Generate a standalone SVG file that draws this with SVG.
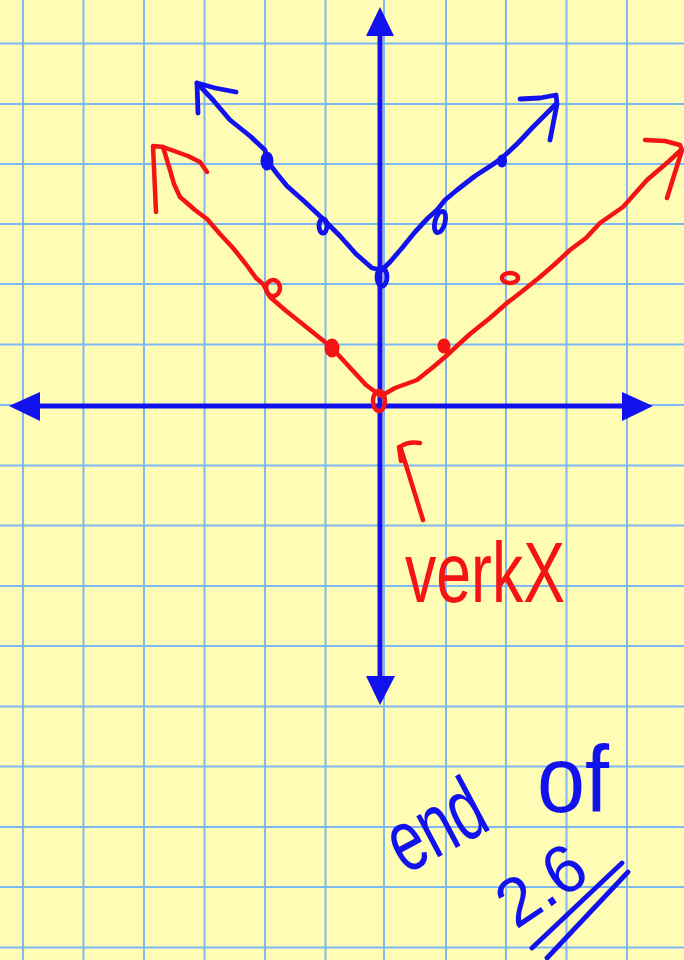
<svg xmlns="http://www.w3.org/2000/svg" width="684" height="960" viewBox="0 0 684 960">
<style>
.grid line{stroke:#7DB8F4;stroke-width:2}
.ax{stroke:#1212EE;stroke-width:5;fill:none}
.axh{fill:#1212EE}
.b{stroke:#1212EE;stroke-width:4.8;fill:none;stroke-linecap:round;stroke-linejoin:round}
.bf{fill:#1212EE;stroke:#1212EE;stroke-width:3}
.r{stroke:#F41414;stroke-width:4.5;fill:none;stroke-linecap:round;stroke-linejoin:round}
.rf{fill:#F41414;stroke:#F41414;stroke-width:3}
.hw{font-family:"Liberation Sans",Arial,sans-serif}
</style>
<rect width="684" height="960" fill="#FFFCB5"/>
<g id="grid" class="grid">
<line x1="23" y1="0" x2="23" y2="960"/><line x1="83.5" y1="0" x2="83.5" y2="960"/><line x1="144" y1="0" x2="144" y2="960"/><line x1="204.5" y1="0" x2="204.5" y2="960"/><line x1="265" y1="0" x2="265" y2="960"/><line x1="325.5" y1="0" x2="325.5" y2="960"/><line x1="384" y1="0" x2="384" y2="960"/><line x1="446" y1="0" x2="446" y2="960"/><line x1="506" y1="0" x2="506" y2="960"/><line x1="566.5" y1="0" x2="566.5" y2="960"/><line x1="627" y1="0" x2="627" y2="960"/>
<line x1="0" y1="43.5" x2="684" y2="43.5"/><line x1="0" y1="104" x2="684" y2="104"/><line x1="0" y1="164" x2="684" y2="164"/><line x1="0" y1="224" x2="684" y2="224"/><line x1="0" y1="284" x2="684" y2="284"/><line x1="0" y1="344.5" x2="684" y2="344.5"/><line x1="0" y1="405" x2="684" y2="405"/><line x1="0" y1="465.5" x2="684" y2="465.5"/><line x1="0" y1="525.5" x2="684" y2="525.5"/><line x1="0" y1="586" x2="684" y2="586"/><line x1="0" y1="646" x2="684" y2="646"/><line x1="0" y1="706.5" x2="684" y2="706.5"/><line x1="0" y1="766.5" x2="684" y2="766.5"/><line x1="0" y1="827" x2="684" y2="827"/><line x1="0" y1="887" x2="684" y2="887"/><line x1="0" y1="947.5" x2="684" y2="947.5"/>
</g>
<g id="axes">
<line class="ax" x1="380" y1="30" x2="380" y2="682"/>
<line class="ax" x1="34" y1="406" x2="628" y2="406"/>
<polygon class="axh" points="380,7 366,36 394,36"/>
<polygon class="axh" points="380,705 366,676 395,676"/>
<polygon class="axh" points="9,406 40,392 40,421"/>
<polygon class="axh" points="653,406 622,392 622,421"/>
</g>
<g id="blue-graph">
<path class="b" d="M197,83 L213,100 L230,120 L250,136 L265,150 L268,162 L278,175 L287,186 L305,202 L322,218 L340,236 L356,254 L372,268 L382,270 L390,262 L402,248 L415,232 L428,218 L437,210 L445,200 L457,190 L475,176 L492,165 L502,158 L518,143 L533,127 L545,115 L556,104"/>
<path class="b" d="M236,92 L215,88 L197,83 L198,113"/>
<path class="b" d="M520,99 L540,98 L556,95 L557,104 L550,140"/>
<ellipse class="bf" cx="267" cy="161" rx="5" ry="8"/>
<ellipse class="b" cx="323" cy="226" rx="4" ry="7" stroke-width="4"/>
<ellipse class="b" cx="382" cy="277" rx="5" ry="9" stroke-width="5"/>
<ellipse class="b" cx="440" cy="222" rx="5" ry="11" transform="rotate(15 440 222)"/>
<ellipse class="bf" cx="502" cy="161" rx="3.5" ry="5"/>
</g>
<g id="red-graph">
<path class="r" d="M163,147 L170,170 L174,184 L180,197 L195,210 L207,219 L220,234 L233,248 L245,263 L256,278 L263,284 L270,297 L285,310 L300,322 L315,334 L330,346 L343,360 L355,373 L366,385 L377,393 L381,396 L395,388 L417,380 L432,368 L445,357 L458,345 L470,334 L490,318 L507,303 L520,293 L540,277 L555,264 L570,250 L586,238 L600,223 L623,207 L647,180 L668,162 L681,150"/>
<path class="r" d="M156,212 L153,146 L163,147 L188,156 L200,162 L207,172"/>
<path class="r" d="M645,140 L665,141 L680,145 L682,150 L667,198"/>
<ellipse class="r" cx="273" cy="288" rx="7" ry="8" stroke-width="5"/>
<ellipse class="rf" cx="332" cy="348" rx="6" ry="8"/>
<ellipse class="r" cx="379" cy="401" rx="6" ry="10" stroke-width="6"/>
<ellipse class="rf" cx="444" cy="346" rx="5" ry="6"/>
<ellipse class="r" cx="510" cy="278" rx="8" ry="5" stroke-width="4"/>
</g>
<g id="annotations">
<path class="r" d="M423,520 L401,449 M399,447 L401,461 M400,447 Q408,441 420,443"/>
<text class="hw" x="405" y="602" font-size="85" fill="#F41414" textLength="160" lengthAdjust="spacingAndGlyphs">verkX</text>
<text class="hw" x="405" y="875" font-size="88" fill="#1212EE" textLength="100" lengthAdjust="spacingAndGlyphs" transform="rotate(-28 405 875)">end</text>
<text class="hw" x="537" y="812" font-size="95" fill="#1212EE" textLength="72" lengthAdjust="spacingAndGlyphs">of</text>
<text class="hw" x="516" y="930" font-size="68" fill="#1212EE" textLength="92" lengthAdjust="spacingAndGlyphs" transform="rotate(-34 516 930)">2.6</text>
<path class="b" d="M532,948 L622,863 M547,958 L628,872"/>
</g>
</svg>
